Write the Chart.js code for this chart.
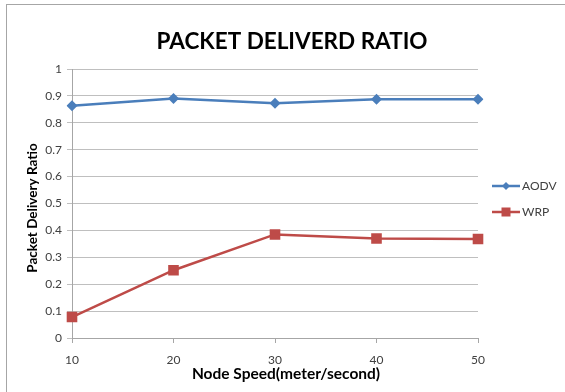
<!DOCTYPE html>
<html>
<head>
<meta charset="utf-8">
<script src="https://cdn.jsdelivr.net/npm/chart.js@4"></script>
<style>
  html, body { margin: 0; padding: 0; background: #fff; overflow: hidden; }
  #wrap { position: relative; width: 565px; height: 392px; }
  #frame { position: absolute; left: 6px; top: 4px; width: 620px; height: 440px;
           border: 1px solid #a6a6a6; box-sizing: border-box; }
  canvas { position: absolute; left: 0; top: 0; }
</style>
</head>
<body>
<div id="wrap">
  <div id="frame"></div>
  <canvas id="c" width="565" height="392"></canvas>
</div>
<script>
// Node speeds (m/s) on the x axis
const speeds = ['10', '20', '30', '40', '50'];
// Packet delivery ratio per protocol
const aodv = [0.863, 0.890, 0.873, 0.888, 0.888];
const wrp  = [0.078, 0.252, 0.385, 0.370, 0.368];
const seriesNames = ['AODV', 'WRP'];
const chartTitle = 'PACKET DELIVERD RATIO';
const xTitle = 'Node Speed(meter/second)';
const yTitle = 'Packet Delivery Ratio';

const FONT = 'Lato, "Open Sans", sans-serif';
const BLUE = '#4a7ebb';
const RED = '#be4b48';

// Draws the heading, axis titles and the legend on the canvas
const textPlugin = {
  id: 'texts',
  afterDraw(chart) {
    const ctx = chart.ctx;
    ctx.save();
    ctx.fillStyle = '#000';
    ctx.textAlign = 'center';
    ctx.textBaseline = 'middle';
    ctx.font = 'bold 22.5px ' + FONT;
    ctx.fillText(chartTitle, 292, 42);

    ctx.font = 'bold 15.5px ' + FONT;
    ctx.fillText(xTitle, 286, 374);

    ctx.save();
    ctx.translate(33, 208);
    ctx.rotate(-Math.PI / 2);
    ctx.font = 'bold 13.5px ' + FONT;
    ctx.fillText(yTitle, 0, 0);
    ctx.restore();

    // legend
    const items = chart.data.datasets;
    items.forEach((ds, i) => {
      const y = 186 + i * 26;
      ctx.strokeStyle = ds.borderColor;
      ctx.lineWidth = 2.5;
      ctx.beginPath();
      ctx.moveTo(492, y);
      ctx.lineTo(520, y);
      ctx.stroke();
      ctx.fillStyle = ds.borderColor;
      if (ds.pointStyle === 'rect') {
        ctx.fillRect(506 - 4.5, y - 4.5, 9, 9);
      } else {
        ctx.beginPath();
        ctx.moveTo(506, y - 4);
        ctx.lineTo(510, y);
        ctx.lineTo(506, y + 4);
        ctx.lineTo(502, y);
        ctx.closePath();
        ctx.fill();
      }
      ctx.fillStyle = '#404040';
      ctx.textAlign = 'left';
      ctx.font = '12px ' + FONT;
      ctx.fillText(ds.label, 522, y);
    });
    ctx.restore();
  }
};

new Chart(document.getElementById('c'), {
  type: 'line',
  data: {
    labels: speeds,
    datasets: [
      {
        label: seriesNames[0], data: aodv,
        borderColor: BLUE, backgroundColor: BLUE,
        borderWidth: 2.5, pointStyle: 'rectRot', pointRadius: 5.5,
        pointBorderWidth: 0, tension: 0
      },
      {
        label: seriesNames[1], data: wrp,
        borderColor: RED, backgroundColor: RED,
        borderWidth: 2.5, pointStyle: 'rect', pointRadius: 7.5,
        pointBorderWidth: 0, tension: 0
      }
    ]
  },
  options: {
    responsive: false,
    animation: false,
    layout: { padding: { top: 69, left: 7, right: 87, bottom: 0 } },
    plugins: {
      legend: { display: false },
      title: { display: false },
      tooltip: { enabled: false }
    },
    scales: {
      x: {
        offset: false,
        afterFit: s => { s.height = 54; },
        grid: { drawOnChartArea: false, drawTicks: true, tickLength: 5, color: '#a6a6a6' },
        border: { color: '#a6a6a6', width: 1 },
        ticks: { color: '#404040', font: { family: FONT, size: 12 }, padding: 10, maxRotation: 0 }
      },
      y: {
        min: 0, max: 1,
        afterFit: s => { s.width = 65; },
        grid: { color: '#bfbfbf', tickLength: 5, lineWidth: 1 },
        border: { color: '#a6a6a6', width: 1 },
        ticks: { stepSize: 0.1, color: '#404040', font: { family: FONT, size: 12 }, padding: 5,
                 callback: v => String(Math.round(v * 10) / 10) }
      }
    }
  },
  plugins: [textPlugin]
});
</script>
</body>
</html>
